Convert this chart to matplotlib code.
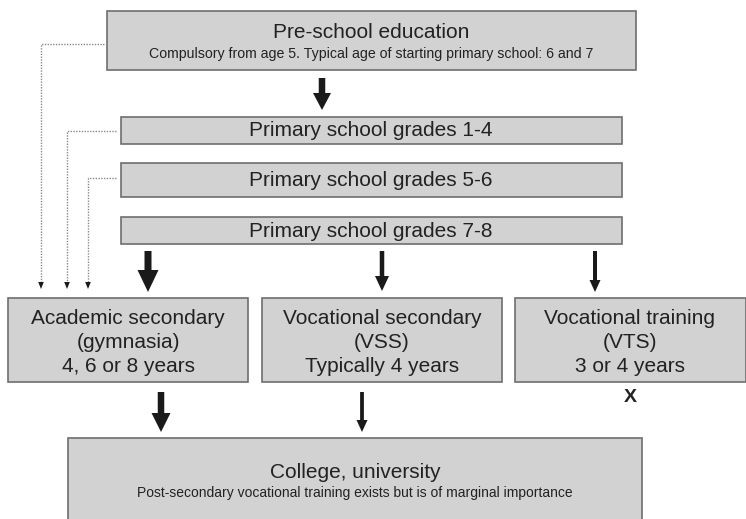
import matplotlib
matplotlib.use("Agg")
import matplotlib.pyplot as plt
from matplotlib.patches import Rectangle, Polygon

plt.rcParams['font.family'] = ['Liberation Sans', 'DejaVu Sans']

# ---- content ----
box_titles = [
    "Pre-school education",
    "Primary school grades 1-4",
    "Primary school grades 5-6",
    "Primary school grades 7-8",
    "Academic secondary\n(gymnasia)\n4, 6 or 8 years",
    "Vocational secondary\n(VSS)\nTypically 4 years",
    "Vocational training\n(VTS)\n3 or 4 years",
    "College, university",
]
box_subtitles = [
    "Compulsory from age 5. Typical age of starting primary school: 6 and 7",
    "", "", "", "", "", "",
    "Post-secondary vocational training exists but is of marginal importance",
]
dead_end_mark = "X"

# ---- layout (pixel coordinates, y downward) ----
boxes = [  # x0, y0, x1, y1
    (107, 11, 636, 70),
    (121, 117, 622, 144),
    (121, 163, 622, 197),
    (121, 217, 622, 244),
    (8, 298, 248, 382),
    (262, 298, 502, 382),
    (515, 298, 746, 382),
    (68, 438, 642, 525),
]
title_pos = [(371, 33, 15), (371, 131, 15), (371, 181, 15), (371, 231.5, 15),
             (128, 342.5, 15), (382, 342.5, 15), (630, 342.5, 15), (355, 472, 15)]
sub_pos = [(371, 54, 10.2), None, None, None, None, None, None, (355, 493, 10.0)]

# arrows: x center, top, head start, tip, shaft width, head width
arrows = [
    (322, 78, 93, 110, 6.5, 18),
    (148, 251, 270, 292, 7, 21),
    (382, 251, 276, 291, 4.5, 14),
    (595, 251, 280, 292, 4, 11),
    (161, 392, 413, 432, 6.5, 19),
    (362, 392, 420, 432, 3.8, 11),
]
# dotted connectors: from (x_start, y), to x_turn, down to y_tip
dotted = [
    (104, 44, 41, 289),
    (116, 131, 67, 289),
    (116, 178, 88, 289),
]

W, H = 746, 519
fig = plt.figure(figsize=(W / 100, H / 100), dpi=100)
ax = fig.add_axes([0, 0, 1, 1])
ax.set_xlim(0, W)
ax.set_ylim(H, 0)
ax.axis('off')

fill = '#d2d2d2'
edge = '#6e6e6e'
tcol = '#222222'

for (x0, y0, x1, y1) in boxes:
    ax.add_patch(Rectangle((x0, y0), x1 - x0, y1 - y0, facecolor=fill,
                           edgecolor=edge, linewidth=1.2, zorder=2))

for t, (x, y, fs) in zip(box_titles, title_pos):
    ax.text(x, y, t, ha='center', va='center', fontsize=fs, color=tcol,
            linespacing=1.3, zorder=3)
for s, p in zip(box_subtitles, sub_pos):
    if p and s:
        ax.text(p[0], p[1], s, ha='center', va='center', fontsize=p[2],
                color=tcol, zorder=3)

for (xc, top, hs, tip, sw, hw) in arrows:
    pts = [(xc - sw / 2, top), (xc + sw / 2, top), (xc + sw / 2, hs),
           (xc + hw / 2, hs), (xc, tip), (xc - hw / 2, hs), (xc - sw / 2, hs)]
    ax.add_patch(Polygon(pts, closed=True, facecolor='#1a1a1a',
                         edgecolor='none', zorder=4))

dcol = '#8a8a8a'
for (xs, y, xt, ytip) in dotted:
    ax.plot([xs, xt, xt], [y, y, ytip - 6], color=dcol, linewidth=1.0,
            linestyle=(0, (1, 1)), zorder=1)
    ax.add_patch(Polygon([(xt - 2.8, ytip - 7), (xt + 2.8, ytip - 7), (xt, ytip)],
                         closed=True, facecolor='#1a1a1a', edgecolor='none', zorder=4))

ax.text(630, 397, dead_end_mark, ha='center', va='center', fontsize=14,
        fontweight='bold', color=tcol)

fig.savefig('out.png', dpi=100, facecolor='white')
